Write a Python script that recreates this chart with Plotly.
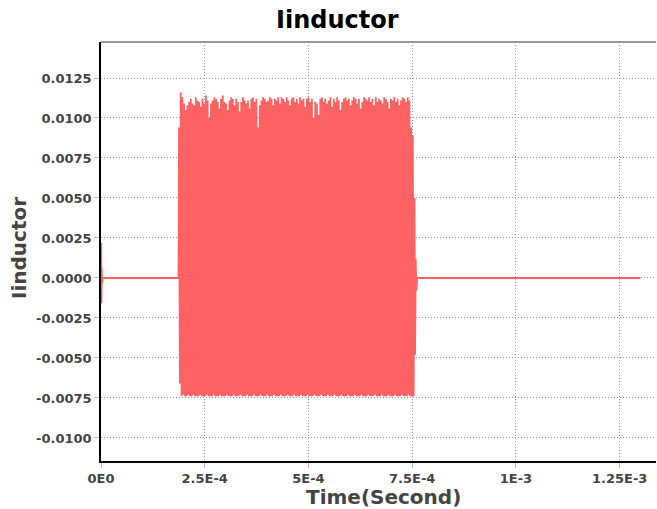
import plotly.graph_objects as go

# --- data ---
x_tick_vals = [0, 2.5e-4, 5e-4, 7.5e-4, 1e-3, 1.25e-3]
x_tick_text = ["0E0", "2.5E-4", "5E-4", "7.5E-4", "1E-3", "1.25E-3"]
y_tick_vals = [-0.01, -0.0075, -0.005, -0.0025, 0.0, 0.0025, 0.005, 0.0075, 0.01, 0.0125]
y_tick_text = ["-0.0100", "-0.0075", "-0.0050", "-0.0025", "0.0000",
               "0.0025", "0.0050", "0.0075", "0.0100", "0.0125"]

# start-up transient near t=0
start_t = [0.0, 0.6e-6, 1.2e-6, 1.8e-6, 2.6e-6, 4e-6]
start_i = [0.0, 0.0022, -0.0016, 0.0006, -0.0003, 0.0]

# oscillation burst
burst_start = 1.87e-4
burst_end = 7.545e-4
peaks = [0.0094, 0.0116, 0.0113, 0.0109, 0.0105, 0.0108, 0.0110, 0.0112, 0.0109, 0.0108,
         0.0113, 0.0111, 0.0110, 0.0107, 0.0112, 0.0109, 0.0114, 0.0111, 0.0100, 0.0109,
         0.0111, 0.0113, 0.0112, 0.0110, 0.0106, 0.0112, 0.0114, 0.0110, 0.0109, 0.0105,
         0.0111, 0.0113, 0.0112, 0.0108, 0.0112, 0.0110, 0.0104, 0.0110, 0.0113, 0.0111,
         0.0109, 0.0111, 0.0106, 0.0112, 0.0113, 0.0110, 0.0112, 0.0094, 0.0108, 0.0111,
         0.0113, 0.0112, 0.0110, 0.0111, 0.0113, 0.0112, 0.0108, 0.0112, 0.0111, 0.0113,
         0.0109, 0.0113, 0.0112, 0.0110, 0.0113, 0.0111, 0.0108, 0.0112, 0.0113, 0.0110,
         0.0112, 0.0109, 0.0113, 0.0111, 0.0112, 0.0107, 0.0112, 0.0113, 0.0110, 0.0112,
         0.0100, 0.0110, 0.0109, 0.0102, 0.0112, 0.0113, 0.0110, 0.0112, 0.0109, 0.0111,
         0.0113, 0.0107, 0.0112, 0.0110, 0.0113, 0.0111, 0.0105, 0.0110, 0.0112, 0.0113,
         0.0111, 0.0112, 0.0108, 0.0111, 0.0113, 0.0112, 0.0109, 0.0112, 0.0106, 0.0110,
         0.0113, 0.0112, 0.0111, 0.0113, 0.0110, 0.0112, 0.0108, 0.0113, 0.0110, 0.0112,
         0.0111, 0.0109, 0.0113, 0.0112, 0.0110, 0.0106, 0.0112, 0.0111, 0.0113, 0.0110,
         0.0112, 0.0108, 0.0111, 0.0113, 0.0112, 0.0110, 0.0113, 0.0111, 0.0094, 0.0089]
troughs = [-0.0066, -0.0074, -0.0073, -0.0074, -0.0074, -0.0073, -0.0074, -0.0074, -0.0073, -0.0074,
           -0.0074, -0.0074, -0.0073, -0.0074, -0.0074, -0.0074, -0.0073, -0.0074, -0.0074, -0.0074,
           -0.0073, -0.0074, -0.0074, -0.0074, -0.0073, -0.0074, -0.0074, -0.0074, -0.0073, -0.0074,
           -0.0074, -0.0074, -0.0073, -0.0074, -0.0074, -0.0074, -0.0073, -0.0074, -0.0074, -0.0074,
           -0.0073, -0.0074, -0.0074, -0.0074, -0.0073, -0.0074, -0.0074, -0.0074, -0.0073, -0.0074,
           -0.0074, -0.0074, -0.0073, -0.0074, -0.0074, -0.0074, -0.0073, -0.0074, -0.0074, -0.0074,
           -0.0073, -0.0074, -0.0074, -0.0074, -0.0073, -0.0074, -0.0074, -0.0074, -0.0073, -0.0074,
           -0.0074, -0.0074, -0.0073, -0.0074, -0.0074, -0.0074, -0.0073, -0.0074, -0.0074, -0.0074,
           -0.0073, -0.0074, -0.0074, -0.0074, -0.0073, -0.0074, -0.0074, -0.0074, -0.0073, -0.0074,
           -0.0074, -0.0074, -0.0073, -0.0074, -0.0074, -0.0074, -0.0073, -0.0074, -0.0074, -0.0074,
           -0.0073, -0.0074, -0.0074, -0.0074, -0.0073, -0.0074, -0.0074, -0.0074, -0.0073, -0.0074,
           -0.0074, -0.0074, -0.0073, -0.0074, -0.0074, -0.0074, -0.0073, -0.0074, -0.0074, -0.0074,
           -0.0073, -0.0074, -0.0074, -0.0074, -0.0073, -0.0074, -0.0074, -0.0074, -0.0073, -0.0074,
           -0.0074, -0.0074, -0.0073, -0.0074, -0.0074, -0.0074, -0.0073, -0.0074, -0.0074, -0.0074]

# decay tail after the burst
tail_t = [7.555e-4, 7.57e-4, 7.585e-4, 7.6e-4, 7.62e-4]
tail_i = [0.0050, -0.0048, 0.0012, -0.0008, 0.0]

end_t = 1.3e-3

# --- build the trace ---
n = len(peaks)
period = (burst_end - burst_start) / n
bt, bi = [burst_start], [0.0]
for k in range(n):
    bt.append(burst_start + k * period + 0.25 * period)
    bi.append(peaks[k])
    bt.append(burst_start + k * period + 0.75 * period)
    bi.append(troughs[k])

t = start_t + [burst_start - 1e-7] + bt + tail_t + [end_t]
i = start_i + [0.0] + bi + tail_i + [0.0]

fig = go.Figure()
fig.add_trace(go.Scatter(x=t, y=i, mode="lines",
                         line=dict(color="rgba(255,85,85,0.92)", width=1.8),
                         showlegend=False))

font_fam = "DejaVu Sans"
axis_common = dict(
    automargin=False,
    showgrid=True, gridcolor="#999", griddash="1px,2px", gridwidth=1,
    showline=True, linecolor="black", linewidth=1.5,
    ticks="outside", ticklen=5, tickcolor="#bbb",
    tickfont=dict(family=font_fam, size=13, color="#444", weight="bold"),
    zeroline=False,
)

# plot-area pixel box inside the 657x509 page
pl, pr, pt, pb = 101, 656, 42, 461


def px_to_paper(cx, cy):
    return (cx - pl) / (pr - pl), (pb - cy) / (pb - pt)


tx, ty = px_to_paper(337, 20)
xx, xy = px_to_paper(383, 497)
yx, yy = px_to_paper(19, 248)

fig.update_layout(
    width=657, height=509,
    margin=dict(l=pl, r=657 - pr, t=pt, b=509 - pb, autoexpand=False),
    paper_bgcolor="white", plot_bgcolor="white",
    xaxis=dict(range=[0, 1.3376e-3], tickvals=x_tick_vals, ticktext=x_tick_text, **axis_common),
    yaxis=dict(range=[-0.01144, 0.01475], tickvals=y_tick_vals, ticktext=y_tick_text, **axis_common),
    annotations=[
        dict(text="<b>Iinductor</b>", xref="paper", yref="paper", x=tx, y=ty,
             xanchor="center", yanchor="middle", showarrow=False,
             font=dict(family=font_fam, size=24, color="black")),
        dict(text="<b>Time(Second)</b>", xref="paper", yref="paper", x=xx, y=xy,
             xanchor="center", yanchor="middle", showarrow=False,
             font=dict(family=font_fam, size=20, color="#444")),
        dict(text="<b>Iinductor</b>", xref="paper", yref="paper", x=yx, y=yy,
             xanchor="center", yanchor="middle", showarrow=False, textangle=-90,
             font=dict(family=font_fam, size=20, color="#444")),
    ],
)

# top border line (gray)
fig.add_shape(type="line", xref="paper", yref="paper", x0=0, x1=1, y0=1, y1=1,
              line=dict(color="#777", width=1.5))

fig.write_html("out.html", config={"displayModeBar": False})

# remove the browser's default 8px body margin so the figure fills the window
with open("out.html", "r", encoding="utf-8") as f:
    html = f.read()
html = html.replace("<head>", "<head><style>html,body{margin:0;padding:0;overflow:hidden;}</style>", 1)
with open("out.html", "w", encoding="utf-8") as f:
    f.write(html)
